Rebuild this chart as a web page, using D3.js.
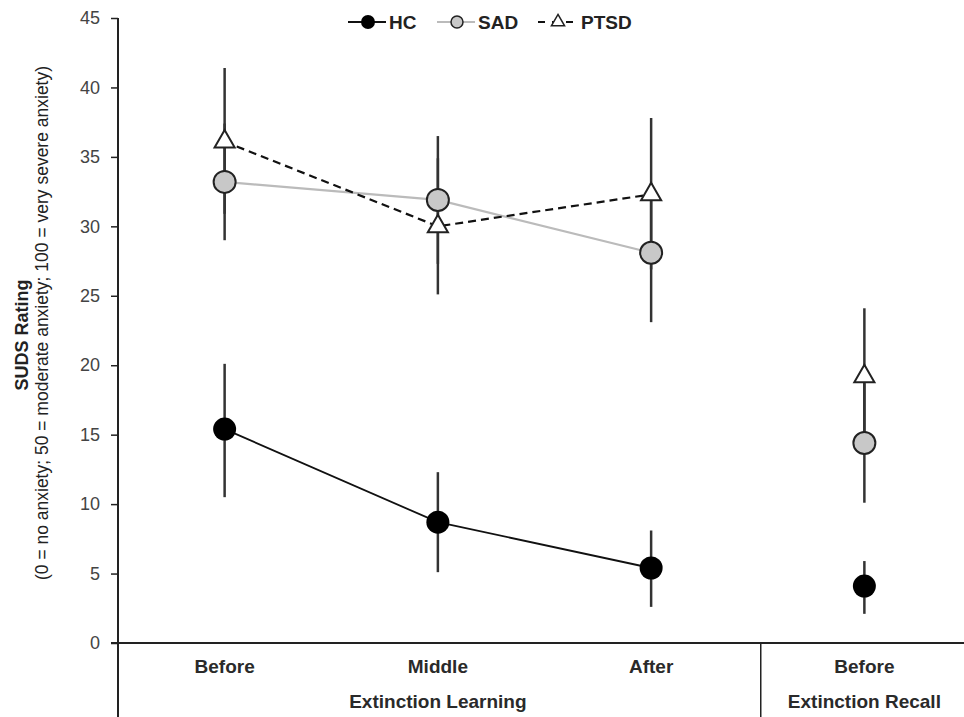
<!DOCTYPE html>
<html><head><meta charset="utf-8">
<script src="https://cdn.jsdelivr.net/npm/d3@7"></script>
<style>body{margin:0;background:#fff;}svg{display:block;font-family:"Liberation Sans",Arial,sans-serif;}</style>
</head><body>
<svg id="c" width="964" height="717"></svg>
<script>
const phases = ["Before","Middle","After","Before "];
const phaseLabels = ["Before","Middle","After","Before"];
const groups = [{name:"Extinction Learning", cats:[0,1,2]},{name:"Extinction Recall", cats:[3]}];
const yTicks = [0,5,10,15,20,25,30,35,40,45];

const hcMean = [15.4, 8.7, 5.4, 4.1];
const hcLow  = [10.5, 5.1, 2.6, 2.1];
const hcHigh = [20.1, 12.3, 8.1, 5.9];

const sadMean = [33.2, 31.9, 28.1, 14.4];
const sadLow  = [29.0, 27.3, 23.1, 10.1];
const sadHigh = [37.4, 36.5, 33.1, 18.7];

const ptsdMean = [36.1, 30.0, 32.3, 19.2];
const ptsdLow  = [30.9, 25.1, 26.9, 14.3];
const ptsdHigh = [41.4, 34.9, 37.8, 24.1];

const svg = d3.select("#c");
const x = d3.scaleBand().domain(phases).range([118, 971]);
const y = d3.scaleLinear().domain([0,45]).range([643, 18]);
const cx = i => x(phases[i]) + x.bandwidth()/2;

// axes
const yAxis = d3.axisLeft(y).tickValues(yTicks).tickSize(7).tickSizeOuter(0);
const gy = svg.append("g").attr("transform","translate(118,0)").call(yAxis);
gy.select(".domain").remove();
gy.selectAll(".tick line").attr("stroke","#222").attr("stroke-width",1.5);
gy.selectAll(".tick text").attr("x",-18).attr("font-size",18).attr("fill","#444").attr("font-family","Liberation Sans, Arial");
svg.append("line").attr("x1",118).attr("x2",118).attr("y1",y(45)).attr("y2",717).attr("stroke","#222").attr("stroke-width",2);
svg.append("line").attr("x1",111).attr("x2",964).attr("y1",y(0)).attr("y2",y(0)).attr("stroke","#222").attr("stroke-width",2);
svg.append("line").attr("x1",x(phases[3])+3).attr("x2",x(phases[3])+3).attr("y1",y(0)).attr("y2",717).attr("stroke","#222").attr("stroke-width",1.5);

// category labels
phaseLabels.forEach((p,i)=>{
  svg.append("text").attr("x",cx(i)).attr("y",673).attr("text-anchor","middle").attr("font-size",19).attr("font-weight","bold").attr("fill","#2a2a2a").text(p);
});
groups.forEach(g=>{
  const m = d3.mean(g.cats, cx);
  svg.append("text").attr("x",m).attr("y",708).attr("text-anchor","middle").attr("font-size",19).attr("font-weight","bold").attr("fill","#2a2a2a").text(g.name);
});

// y title
svg.append("text").attr("transform","translate(28,335) rotate(-90)").attr("text-anchor","middle").attr("font-size",18).attr("font-weight","bold").attr("fill","#222").text("SUDS Rating");
svg.append("text").attr("transform","translate(48,323) rotate(-90)").attr("text-anchor","middle").attr("font-size",17.5).attr("fill","#222").text("(0 = no anxiety; 50 = moderate anxiety; 100 = very severe anxiety)");

// error bars
function errBars(low, high){
  low.forEach((l,i)=>{
    svg.append("line").attr("x1",cx(i)).attr("x2",cx(i)).attr("y1",y(l)).attr("y2",y(high[i])).attr("stroke","#333").attr("stroke-width",2.5);
  });
}
errBars(ptsdLow, ptsdHigh);
errBars(sadLow, sadHigh);
errBars(hcLow, hcHigh);

// lines (extinction learning points connected)
const line = d3.line().x((d,i)=>cx(i)).y(d=>y(d));
svg.append("path").attr("d",line(hcMean.slice(0,3))).attr("fill","none").attr("stroke","#111").attr("stroke-width",1.8);
svg.append("path").attr("d",line(sadMean.slice(0,3))).attr("fill","none").attr("stroke","#bbb").attr("stroke-width",2.2);
svg.append("path").attr("d",line(ptsdMean.slice(0,3))).attr("fill","none").attr("stroke","#111").attr("stroke-width",2.2).attr("stroke-dasharray","8,5");

const tri = d3.symbol().type(d3.symbolTriangle).size(175);
// markers
sadMean.forEach((v,i)=>{
  svg.append("circle").attr("cx",cx(i)).attr("cy",y(v)).attr("r",11).attr("fill","#c8c8c8").attr("stroke","#222").attr("stroke-width",2);
});
ptsdMean.forEach((v,i)=>{
  svg.append("path").attr("d",tri).attr("transform",`translate(${cx(i)},${y(v)})`).attr("fill","#fff").attr("stroke","#222").attr("stroke-width",2);
});
hcMean.forEach((v,i)=>{
  svg.append("circle").attr("cx",cx(i)).attr("cy",y(v)).attr("r",11.5).attr("fill","#000");
});

// legend
const lg = svg.append("g").attr("transform","translate(0,22)");
const ly = 7;
// HC
lg.append("line").attr("x1",348).attr("x2",386).attr("y1",0).attr("y2",0).attr("stroke","#111").attr("stroke-width",2);
lg.append("circle").attr("cx",368).attr("cy",0).attr("r",7).attr("fill","#000");
lg.append("text").attr("x",389).attr("y",ly).attr("font-size",19).attr("font-weight","bold").attr("fill","#222").text("HC");
// SAD
lg.append("line").attr("x1",437).attr("x2",475).attr("y1",0).attr("y2",0).attr("stroke","#bbb").attr("stroke-width",2);
lg.append("circle").attr("cx",457).attr("cy",0).attr("r",6).attr("fill","#c8c8c8").attr("stroke","#222").attr("stroke-width",1.5);
lg.append("text").attr("x",478).attr("y",ly).attr("font-size",19).attr("font-weight","bold").attr("fill","#222").text("SAD");
// PTSD
lg.append("line").attr("x1",538).attr("x2",578).attr("y1",0).attr("y2",0).attr("stroke","#111").attr("stroke-width",2).attr("stroke-dasharray","7,7");
lg.append("path").attr("d",d3.symbol().type(d3.symbolTriangle).size(75)).attr("transform","translate(558,0)").attr("fill","#fff").attr("stroke","#222").attr("stroke-width",1.5);
lg.append("text").attr("x",581).attr("y",ly).attr("font-size",19).attr("font-weight","bold").attr("fill","#222").text("PTSD");
</script>
</body></html>
